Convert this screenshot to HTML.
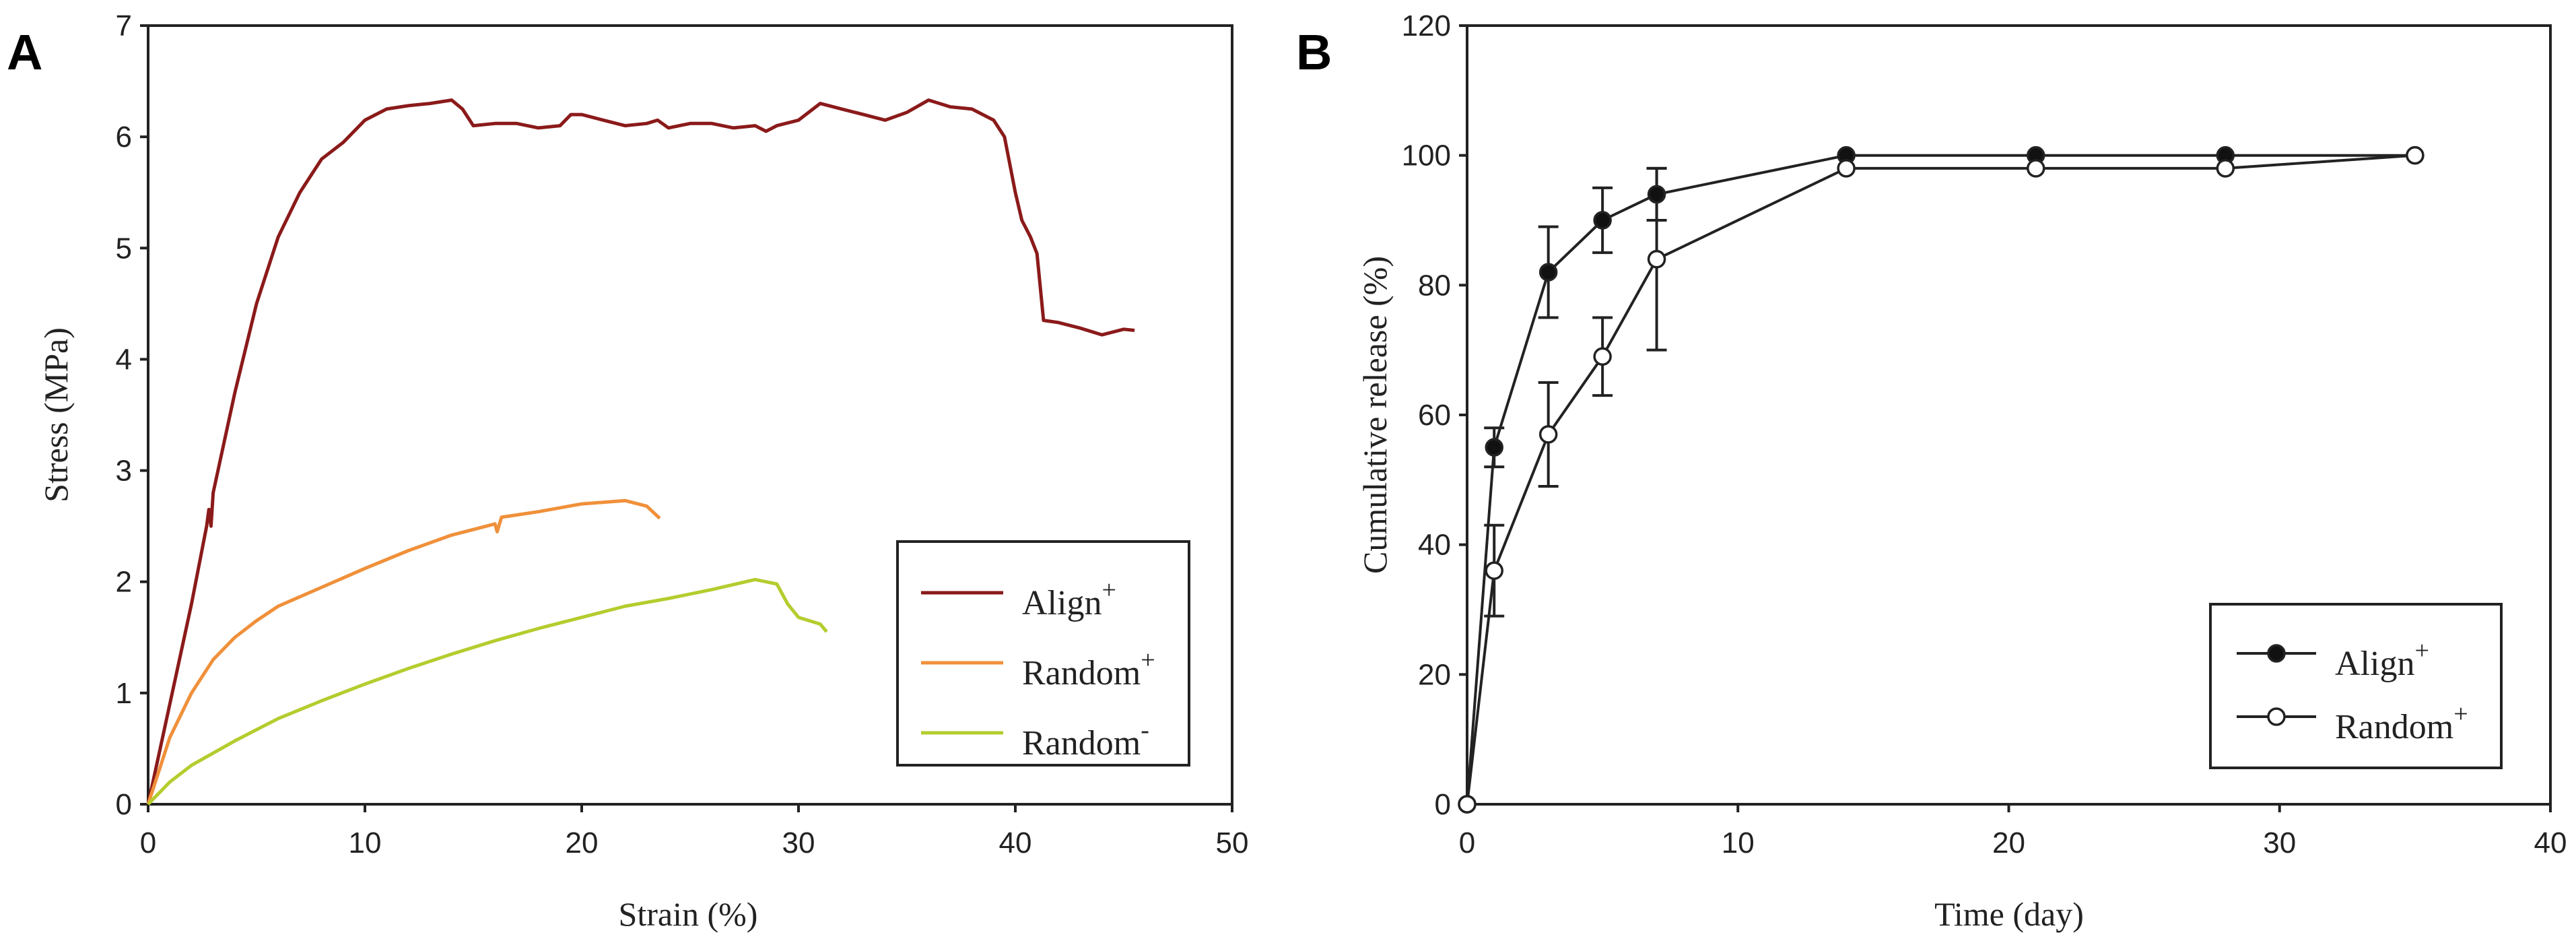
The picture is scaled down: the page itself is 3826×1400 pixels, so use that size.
<!DOCTYPE html>
<html><head><meta charset="utf-8"><style>
html,body{margin:0;padding:0;background:#fff}
svg{display:block}
.tk{font-family:"Liberation Sans",Arial,sans-serif;font-size:44px;fill:#222}
.ti{font-family:"Liberation Serif",serif;font-size:50px;fill:#222}
.lg{font-family:"Liberation Serif",serif;font-size:52px;fill:#222}
</style></head><body>
<svg id="fig" width="3826" height="1400" viewBox="0 0 3826 1400" xmlns="http://www.w3.org/2000/svg">
<text x="10" y="103" font-family="Liberation Sans,sans-serif" font-weight="bold" font-size="74">A</text>
<text x="1925" y="103" font-family="Liberation Sans,sans-serif" font-weight="bold" font-size="74">B</text>
<g id="pa"></g>
<g id="pb"></g>
</svg>
<script>
const alignX=[0,1,2,2.7,2.8,2.9,3,4,5,6,7,8,9,10,11,12,13,14,14.5,15,16,17,18,19,19.5,20,21,22,23,23.5,24,25,26,27,28,28.5,29,30,31,32,33,34,35,36,37,38,39,39.5,40,40.3,40.7,41,41.3,42,43,44,45,45.5];
const alignY=[0,0.9,1.8,2.5,2.65,2.5,2.8,3.7,4.5,5.1,5.5,5.8,5.95,6.15,6.25,6.28,6.3,6.33,6.25,6.1,6.12,6.12,6.08,6.1,6.2,6.2,6.15,6.1,6.12,6.15,6.08,6.12,6.12,6.08,6.1,6.05,6.1,6.15,6.3,6.25,6.2,6.15,6.22,6.33,6.27,6.25,6.15,6.0,5.5,5.25,5.1,4.95,4.35,4.33,4.28,4.22,4.27,4.26];
const randPX=[0,1,2,3,4,5,6,8,10,12,14,16,16.1,16.3,18,20,22,23,23.6];
const randPY=[0,0.6,1.0,1.3,1.5,1.65,1.78,1.95,2.12,2.28,2.42,2.52,2.45,2.58,2.63,2.7,2.73,2.68,2.57];
const randMX=[0,1,2,4,6,8,10,12,14,16,18,20,22,24,26,28,29,29.5,30,31,31.3];
const randMY=[0,0.2,0.35,0.57,0.77,0.93,1.08,1.22,1.35,1.47,1.58,1.68,1.78,1.85,1.93,2.02,1.98,1.8,1.68,1.62,1.55];
const aXTicks=[0,10,20,30,40,50];
const aYTicks=[0,1,2,3,4,5,6,7];
const days=[0,1,3,5,7,14,21,28,35];
const alignRel=[0,55,82,90,94,100,100,100,100];
const alignErr=[0,3,7,5,4,0,0,0,0];
const randRel=[0,36,57,69,84,98,98,98,100];
const randErr=[0,7,8,6,14,0,0,0,0];
const bXTicks=[0,10,20,30,40];
const bYTicks=[0,20,40,60,80,100,120];

const NS="http://www.w3.org/2000/svg";
function mk(p,t,a){const e=document.createElementNS(NS,t);for(const k in a)e.setAttribute(k,a[k]);p.appendChild(e);return e;}

function axes(g,L,R,T,B,xt,yt,sx,sy,xtitle,ytitle,xtx){
  const f=mk(g,'rect',{x:L,y:T,width:R-L,height:B-T,fill:'none',stroke:'#222','stroke-width':4});
  
  
  xt.forEach(v=>{const x=sx(v);
    mk(g,'line',{x1:x,x2:x,y1:B,y2:B+12,stroke:'#222','stroke-width':4});
    const t=mk(g,'text',{x:x,y:B+72,'text-anchor':'middle',class:'tk'});t.textContent=v;
    
    });
  yt.forEach(v=>{const y=sy(v);
    mk(g,'line',{x1:L-12,x2:L,y1:y,y2:y,stroke:'#222','stroke-width':4});
    const t=mk(g,'text',{x:L-24,y:y+15,'text-anchor':'end',class:'tk'});t.textContent=v;
    
    });
  const xl=mk(g,'text',{x:xtx,y:1374,'text-anchor':'middle',class:'ti'});xl.textContent=xtitle;
  
  
  const yl=mk(g,'text',{x:0,y:0,'text-anchor':'middle',class:'ti',transform:`translate(${L-120},616) rotate(-90)`});yl.textContent=ytitle;
  
  
}

(function(){
  const g=document.getElementById('pa');
  const L=220,R=1830,T=38,B=1194;
  const sx=v=>L+(R-L)*v/50, sy=v=>B-(B-T)*v/7;
  axes(g,L,R,T,B,aXTicks,aYTicks,sx,sy,'Strain (%)','Stress (MPa)',1022);
  const series=[[alignX,alignY,'#8b1a1a','align-plus-curve'],[randPX,randPY,'#f0903a','random-plus-curve'],[randMX,randMY,'#b5cc2e','random-minus-curve']];
  series.forEach(s=>{
    const d=s[0].map((x,i)=>(i?'L':'M')+sx(x).toFixed(1)+','+sy(s[1][i]).toFixed(1)).join('');
    const p=mk(g,'path',{d:d,fill:'none',stroke:s[2],'stroke-width':5,'stroke-linejoin':'round'});
    
    
  });
  const lg=mk(g,'g',{});
  
  
  mk(lg,'rect',{x:1333,y:804,width:433,height:332,fill:'#fff',stroke:'#222','stroke-width':4});
  const items=[['Align','+','#8b1a1a'],['Random','+','#f0903a'],['Random','-','#b5cc2e']];
  items.forEach((it,i)=>{const y=880+i*104;
    mk(lg,'line',{x1:1368,x2:1490,y1:y,y2:y,stroke:it[2],'stroke-width':5});
    const t=mk(lg,'text',{x:1518,y:y+32,class:'lg'});t.textContent=it[0];
    const s=mk(t,'tspan',{dy:-24,'font-size':38});s.textContent=it[1];
    
    });
})();

(function(){
  const g=document.getElementById('pb');
  const L=2179,R=3788,T=38,B=1194;
  const sx=v=>L+(R-L)*v/40, sy=v=>B-(B-T)*v/120;
  axes(g,L,R,T,B,bXTicks,bYTicks,sx,sy,'Time (day)','Cumulative release (%)',2984);
  const series=[[alignRel,alignErr,'#111','align-plus'],[randRel,randErr,'#fff','random-plus']];
  series.forEach(s=>{
    days.forEach((d,i)=>{ if(s[1][i]>0){const x=sx(d),y1=sy(s[0][i]+s[1][i]),y2=sy(s[0][i]-s[1][i]);
      const e=mk(g,'path',{d:`M${x},${y1}V${y2}M${x-15},${y1}H${x+15}M${x-15},${y2}H${x+15}`,stroke:'#222','stroke-width':4,fill:'none'});
      
      }});
    const d=days.map((x,i)=>(i?'L':'M')+sx(x).toFixed(1)+','+sy(s[0][i]).toFixed(1)).join('');
    const p=mk(g,'path',{d:d,fill:'none',stroke:'#222','stroke-width':4});
    
    
  });
  series.forEach(s=>{days.forEach((d,i)=>{
    const c=mk(g,'circle',{cx:sx(d),cy:sy(s[0][i]),r:12,fill:s[2],stroke:'#222','stroke-width':3.5});
    
    });});
  const lg=mk(g,'g',{});
  
  
  mk(lg,'rect',{x:3283,y:897,width:432,height:243,fill:'#fff',stroke:'#222','stroke-width':4});
  [['Align','#111'],['Random','#fff']].forEach((it,i)=>{const y=970+i*94;
    mk(lg,'line',{x1:3322,x2:3440,y1:y,y2:y,stroke:'#222','stroke-width':4});
    mk(lg,'circle',{cx:3381,cy:y,r:12,fill:it[1],stroke:'#222','stroke-width':3.5});
    const t=mk(lg,'text',{x:3468,y:y+32,class:'lg'});t.textContent=it[0];
    const s=mk(t,'tspan',{dy:-24,'font-size':38});s.textContent='+';
    
    });
})();
</script>
</body></html>
